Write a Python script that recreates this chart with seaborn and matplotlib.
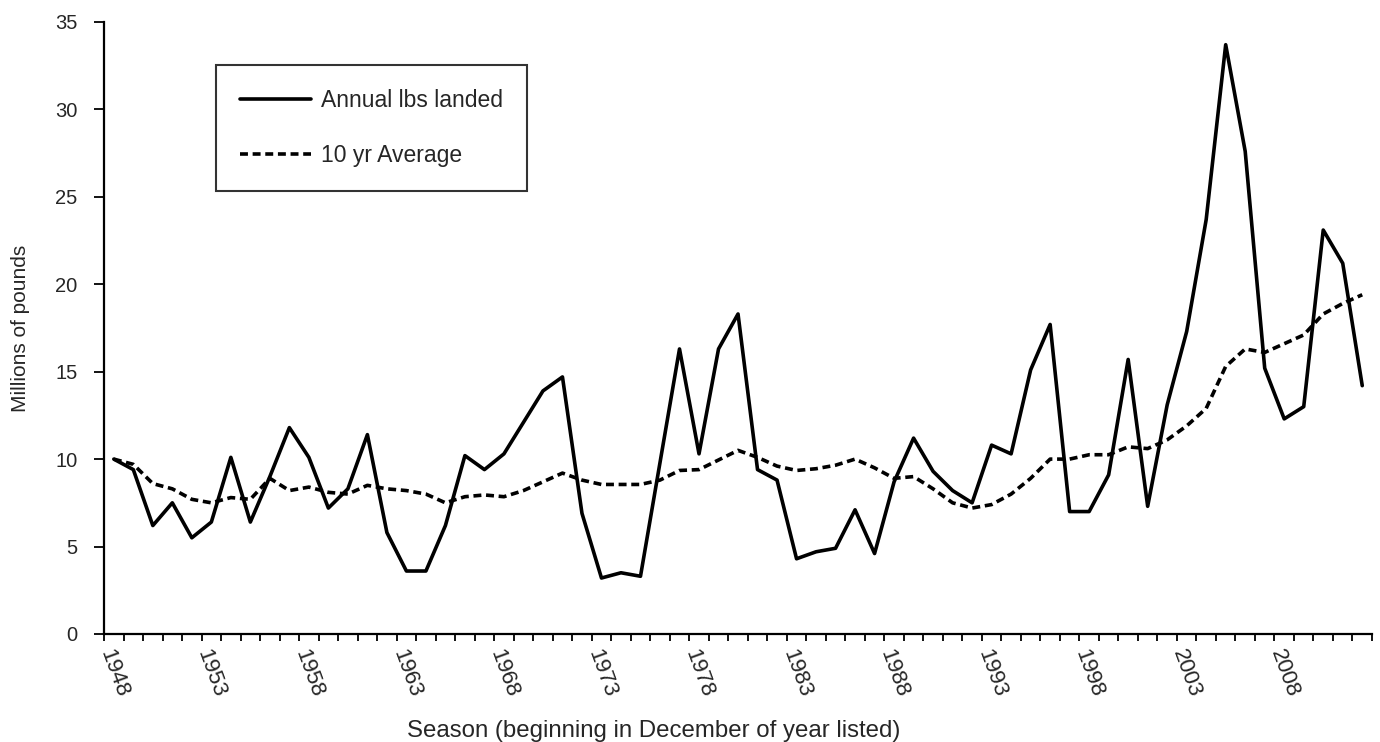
#!/usr/bin/env python3
import pandas as pd
import matplotlib.pyplot as plt
import seaborn as sns

# seasons 1948 ~ 2012
years = list(range(1948, 2013))

# annual pounds landed (millions)
landed = [
    10.0, 9.4, 6.2, 7.5, 5.5, 6.4, 10.1, 6.4, 9.0, 11.8,
    10.1, 7.2, 8.3, 11.4, 5.8, 3.6, 3.6, 6.2, 10.2, 9.4,
    10.3, 12.1, 13.9, 14.7, 6.9, 3.2, 3.5, 3.3, 9.8, 16.3,
    10.3, 16.3, 18.3, 9.4, 8.8, 4.3, 4.7, 4.9, 7.1, 4.6,
    8.7, 11.2, 9.3, 8.2, 7.5, 10.8, 10.3, 15.1, 17.7, 7.0,
    7.0, 9.1, 15.7, 7.3, 13.1, 17.3, 23.7, 33.7, 27.6, 15.2,
    12.3, 13.0, 23.1, 21.2, 14.2,
]

# 10 yr average
avg10 = [
    10.0, 9.7, 8.6, 8.3, 7.7, 7.5, 7.8, 7.7, 8.9, 8.2,
    8.4, 8.1, 8.0, 8.5, 8.3, 8.2, 8.0, 7.5, 7.85, 7.95,
    7.85, 8.2, 8.7, 9.2, 8.8, 8.55, 8.55, 8.55, 8.8, 9.35,
    9.4, 9.95, 10.5, 10.1, 9.6, 9.35, 9.45, 9.65, 10.0, 9.5,
    8.9, 9.0, 8.3, 7.5, 7.2, 7.4, 8.0, 8.9, 10.0, 10.0,
    10.25, 10.25, 10.7, 10.6, 11.1, 11.9, 12.9, 15.3, 16.3, 16.1,
    16.6, 17.1, 18.3, 18.9, 19.4,
]

y_ticks = [0, 5, 10, 15, 20, 25, 30, 35]


def main():
    sns.set_theme(style="white")
    plt.rcParams["font.family"] = ["Liberation Sans", "DejaVu Sans"]

    df = pd.DataFrame({
        "pos": range(len(years)),
        "year": years,
        "landed": landed,
        "avg10": avg10,
    })

    fig = plt.figure(figsize=(13.8, 7.42), dpi=100)
    ax = fig.add_axes([0.0754, 0.1456, 0.9188, 0.8248])

    sns.lineplot(data=df, x="pos", y="landed", ax=ax, color="black",
                 linewidth=2.6, label="Annual lbs landed")
    sns.lineplot(data=df, x="pos", y="avg10", ax=ax, color="black",
                 linewidth=2.6, label="10 yr Average")
    ax.lines[1].set_dashes((2.2, 1.3))

    ax.set_xlim(-0.5, len(years) - 0.5)
    ax.set_ylim(0, 35)
    ax.set_yticks(y_ticks)

    # Excel 스타일: 눈금은 카테고리 사이, 라벨은 5년마다
    major = list(range(0, len(years), 5))
    ax.set_xticks(major)
    ax.set_xticklabels([str(years[i]) for i in major], rotation=-70,
                       ha="center", fontsize=16)
    ax.set_xticks([i - 0.5 for i in range(len(years) + 1)], minor=True)
    ax.tick_params(axis="x", which="major", length=0, pad=9)
    ax.tick_params(axis="x", which="minor", bottom=True, length=5,
                   width=1.3, color="black", direction="out")
    ax.tick_params(axis="y", left=True, length=7, width=1.3,
                   color="black", labelsize=14.5, pad=12)

    for side in ["top", "right"]:
        ax.spines[side].set_visible(False)
    for side in ["left", "bottom"]:
        ax.spines[side].set_color("black")
        ax.spines[side].set_linewidth(1.6)

    ax.set_xlabel("Season (beginning in December of year listed)",
                  fontsize=17.3, va="center")
    # 원본처럼 축 제목이 살짝 왼쪽으로 치우쳐 있음
    ax.xaxis.set_label_coords(0.4338, -0.1585)
    ax.set_ylabel("Millions of pounds", fontsize=15, labelpad=18)

    leg = ax.legend(loc="upper left", bbox_to_anchor=(0.0883, 0.93),
                    borderaxespad=0, fontsize=16.5, handlelength=3.1,
                    handletextpad=0.45, labelspacing=1.4, borderpad=1.05,
                    fancybox=False, frameon=True)
    leg.get_frame().set_edgecolor("black")
    leg.get_frame().set_linewidth(1.5)

    fig.savefig("out.png", dpi=100)


if __name__ == "__main__":
    main()
